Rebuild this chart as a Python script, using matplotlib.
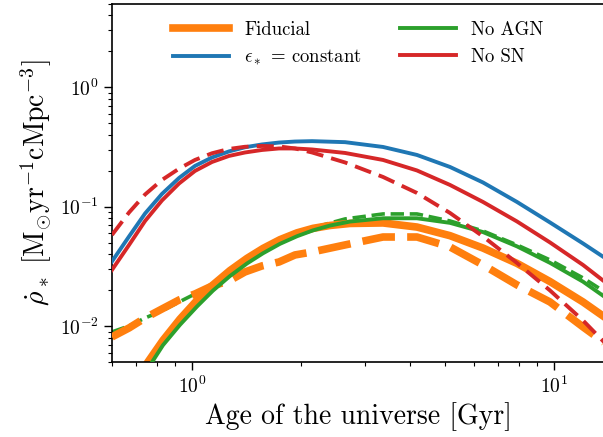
import matplotlib
matplotlib.use("Agg")
import matplotlib.pyplot as plt

plt.rcParams.update({
    "font.family": "serif",
    "font.serif": ["cmr10", "DejaVu Serif"],
    "mathtext.fontset": "cm",
    "axes.formatter.use_mathtext": True,
    "axes.unicode_minus": False,
    "axes.linewidth": 1.2,
    "xtick.major.size": 6, "ytick.major.size": 6,
    "xtick.minor.size": 3, "ytick.minor.size": 3,
    "xtick.major.width": 1.0, "ytick.major.width": 1.0,
    "xtick.minor.width": 0.8, "ytick.minor.width": 0.8,
})

# Age of the universe [Gyr] (grid for upper curves and dashed curves)
age_hi = [0.601, 0.670, 0.742, 0.826, 0.921, 1.019, 1.136, 1.265, 1.401, 1.561,
          1.739, 1.925, 2.146, 2.647, 3.371, 4.183, 5.161, 6.367, 7.903, 9.750,
          12.03, 13.83]
# grid for the fiducial / No AGN solid curves
age_lo = [0.7185, 0.7558, 0.8315, 0.9265, 1.032, 1.143, 1.273, 1.419, 1.571,
          1.750, 1.950, 2.159, 2.406, 2.732, 3.371, 4.183, 5.161, 6.367, 7.903,
          9.750, 12.03, 13.83]

const_solid = [0.03476, 0.05629, 0.08771, 0.1278, 0.1739, 0.2193, 0.2583, 0.2901,
               0.3144, 0.3319, 0.3443, 0.3510, 0.3537, 0.3469, 0.3162, 0.2710,
               0.2150, 0.1594, 0.1095, 0.07374, 0.04918, 0.03719]
nosn_solid = [0.02950, 0.04778, 0.07592, 0.1127, 0.1564, 0.1991, 0.2368, 0.2659,
              0.2843, 0.2984, 0.3072, 0.3072, 0.3013, 0.2817, 0.2461, 0.2010,
              0.1520, 0.1095, 0.07518, 0.05015, 0.03249, 0.02341]
nosn_dash = [0.05794, 0.08941, 0.1265, 0.1674, 0.2081, 0.2461, 0.2801, 0.3042,
             0.3174, 0.3224, 0.3193, 0.3072, 0.2843, 0.2346, 0.1773, 0.1302,
             0.08857, 0.05629, 0.03377, 0.01987, 0.01114, 0.00722]
fid_dash = [0.00811, 0.00964, 0.01169, 0.01390, 0.01654, 0.01857, 0.02167,
            0.02386, 0.0284, 0.0319, 0.0344, 0.0394, 0.0417, 0.0478, 0.0557,
            0.0557, 0.0460, 0.0325, 0.0221, 0.01591, 0.00983, 0.00722]
noagn_dash = [0.00893, 0.01002, 0.01169, 0.01338, 0.01591, 0.01857, 0.02252,
              0.0284, 0.0344, 0.0417, 0.0497, 0.0579, 0.0663, 0.0789, 0.0869,
              0.0869, 0.0759, 0.0626, 0.0478, 0.0358, 0.0253, 0.0193]

fid_solid = [0.00390, 0.00501, 0.00760, 0.01145, 0.01641, 0.02214, 0.02916,
             0.03690, 0.04467, 0.05292, 0.06034, 0.06580, 0.06958, 0.07233,
             0.07303, 0.06749, 0.05715, 0.04501, 0.03351, 0.02359, 0.01591,
             0.01183]
noagn_solid = [0.003402, 0.004422, 0.006922, 0.01025, 0.01457, 0.01983, 0.02623,
               0.03344, 0.04071, 0.04882, 0.05651, 0.06331, 0.06946, 0.07503,
               0.07994, 0.07994, 0.07317, 0.06126, 0.04651, 0.03384, 0.02354,
               0.01749]

C_OR, C_BL, C_GR, C_RD = "#ff7f0e", "#1f77b4", "#2ca02c", "#d62728"

fig = plt.figure(figsize=(6.03, 4.37), dpi=100)
ax = fig.add_axes([111.7 / 603, 75 / 437, 492.9 / 603, 358.2 / 437])

ax.plot(age_hi, noagn_dash, color=C_GR, lw=2.6, ls="--", zorder=1)
ax.plot(age_lo, fid_solid, color=C_OR, lw=5.5, label="Fiducial", zorder=2)
ax.plot(age_hi, fid_dash, color=C_OR, lw=5.5, ls=(0, (4.3, 1.6)), zorder=3)
ax.plot(age_hi, const_solid, color=C_BL, lw=2.8,
        label=r"$\epsilon_*$ = constant", zorder=4)
ax.plot(age_lo, noagn_solid, color=C_GR, lw=2.8, label="No AGN", zorder=5)
ax.plot(age_hi, nosn_solid, color=C_RD, lw=2.8, label="No SN", zorder=6)
ax.plot(age_hi, nosn_dash, color=C_RD, lw=2.8, ls=(0, (4.4, 2.1)), zorder=7)

ax.set_xscale("log")
ax.set_yscale("log")
ax.set_xlim(0.6, 13.8)
ax.set_ylim(5e-3, 5)
ax.tick_params(labelsize=14)

ax.set_xlabel("Age of the universe [Gyr]", fontsize=20)
ax.set_ylabel(r"$\dot{\rho}_*\ [\mathrm{M_{\odot}yr^{-1}cMpc^{-3}}]$", fontsize=20)

ax.legend(loc="upper center", ncol=2, frameon=False, fontsize=13.5,
          handlelength=3.0, columnspacing=2.0, bbox_to_anchor=(0.5, 1.0))

fig.savefig("out.png", dpi=100)
